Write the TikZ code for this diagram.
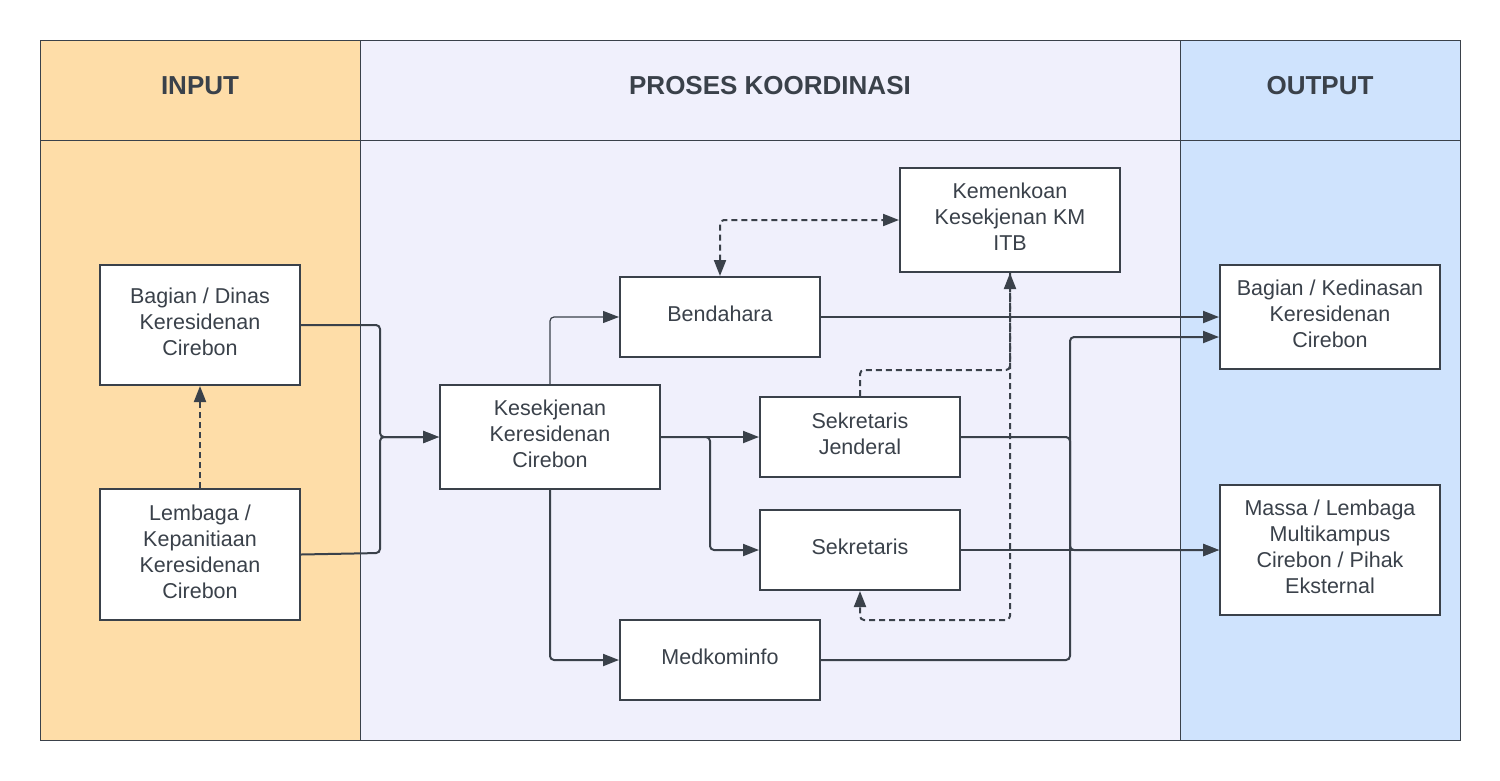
\documentclass[tikz,border=0pt]{standalone}
\usepackage{fontspec}
\setmainfont{Liberation Sans}
\usetikzlibrary{arrows.meta,calc}
\definecolor{ink}{HTML}{3A414A}
\definecolor{peach}{HTML}{FEDDA8}
\definecolor{lav}{HTML}{F0F0FC}
\definecolor{sky}{HTML}{CFE3FD}
\tikzset{
  box/.style={draw=ink, line width=2pt, fill=white, text=ink, align=center,
    inner sep=0pt, font=\fontsize{21.5}{26}\selectfont,
    execute at end node={\rule[-6pt]{0pt}{6pt}}},
  hdr/.style={text=ink, font=\fontsize{26}{30}\selectfont\bfseries},
  conn/.style={draw=ink, line width=2pt, rounded corners=4pt, -{Triangle[length=16pt,width=12pt]}},
  thinconn/.style={draw=ink, line width=1.2pt, rounded corners=4pt, -{Triangle[length=16pt,width=12pt]}},
  dconn/.style={conn, dash pattern=on 6pt off 4pt},
  lane/.style={draw=ink, line width=1pt}
}
\begin{document}
\begin{tikzpicture}[x=1pt,y=-1pt]
\useasboundingbox (0,0) rectangle (1500,780);
\fill[white] (0,0) rectangle (1500,780);
% lanes
\path[lane, fill=peach] (40,40) rectangle (360,740);
\path[lane, fill=lav] (360,40) rectangle (1180,740);
\path[lane, fill=sky] (1180,40) rectangle (1460,740);
\draw[lane] (40,140) -- (1460,140);
\node[hdr] (hin) at (200,86) {INPUT};
\node[hdr] (hpr) at (770,86) {PROSES KOORDINASI};
\node[hdr] (hout) at (1320,86) {OUTPUT};
% nodes
\node[box, minimum width=200pt, minimum height=120pt] (bagian) at (200,325) {Bagian / Dinas\\Keresidenan\\Cirebon};
\node[box, minimum width=200pt, minimum height=131pt] (lembaga) at (200,554.5) {Lembaga /\\Kepanitiaan\\Keresidenan\\Cirebon};
\node[box, minimum width=220pt, minimum height=104pt] (kesek) at (550,437) {Kesekjenan\\Keresidenan\\Cirebon};
\node[box, minimum width=200pt, minimum height=80pt] (bend) at (720,317) {Bendahara};
\node[box, minimum width=220pt, minimum height=104pt] (kemen) at (1010,220) {Kemenkoan\\Kesekjenan KM\\ITB};
\node[box, minimum width=200pt, minimum height=80pt] (sekjen) at (860,437) {Sekretaris\\Jenderal};
\node[box, minimum width=200pt, minimum height=80pt] (sekr) at (860,550) {Sekretaris};
\node[box, minimum width=200pt, minimum height=80pt] (medk) at (720,660) {Medkominfo};
\node[box, minimum width=220pt, minimum height=104pt] (kedin) at (1330,317) {Bagian / Kedinasan\\Keresidenan\\Cirebon};
\node[box, minimum width=220pt, minimum height=130pt] (massa) at (1330,550) {Massa / Lembaga\\Multikampus\\Cirebon / Pihak\\Eksternal};
% connectors
\draw[conn] (bagian.east) -- (380,325) -- (380,437) -- (kesek.west);
\draw[conn] (lembaga.east) -- (380,553) -- (380,437) -- (kesek.west);
\draw[dconn] (lembaga.north) -- (bagian.south);
\draw[thinconn] (kesek.north) |- (bend.west);
\draw[conn] (kesek.east) -- (sekjen.west);
\draw[conn] (kesek.east) -- (710,437) |- (sekr.west);
\draw[conn] (kesek.south) |- (medk.west);
\draw[dconn, {Triangle[length=16pt,width=12pt]}-{Triangle[length=16pt,width=12pt]}] (bend.north) |- (kemen.west);
\draw[conn] (bend.east) -- (kedin.west);
\draw[conn] (sekjen.east) -- (1070,437) |- (massa.west);
\draw[conn] (sekr.east) -- (massa.west);
\draw[conn] (medk.east) -- (1070,660) |- ($(kedin.west)+(0,20)$);
\draw[dconn] (sekjen.north) -- (860,370) -| (kemen.south);
\draw[dconn] (kemen.south) -- (1010,620) -| (sekr.south);
\end{tikzpicture}
\end{document}
